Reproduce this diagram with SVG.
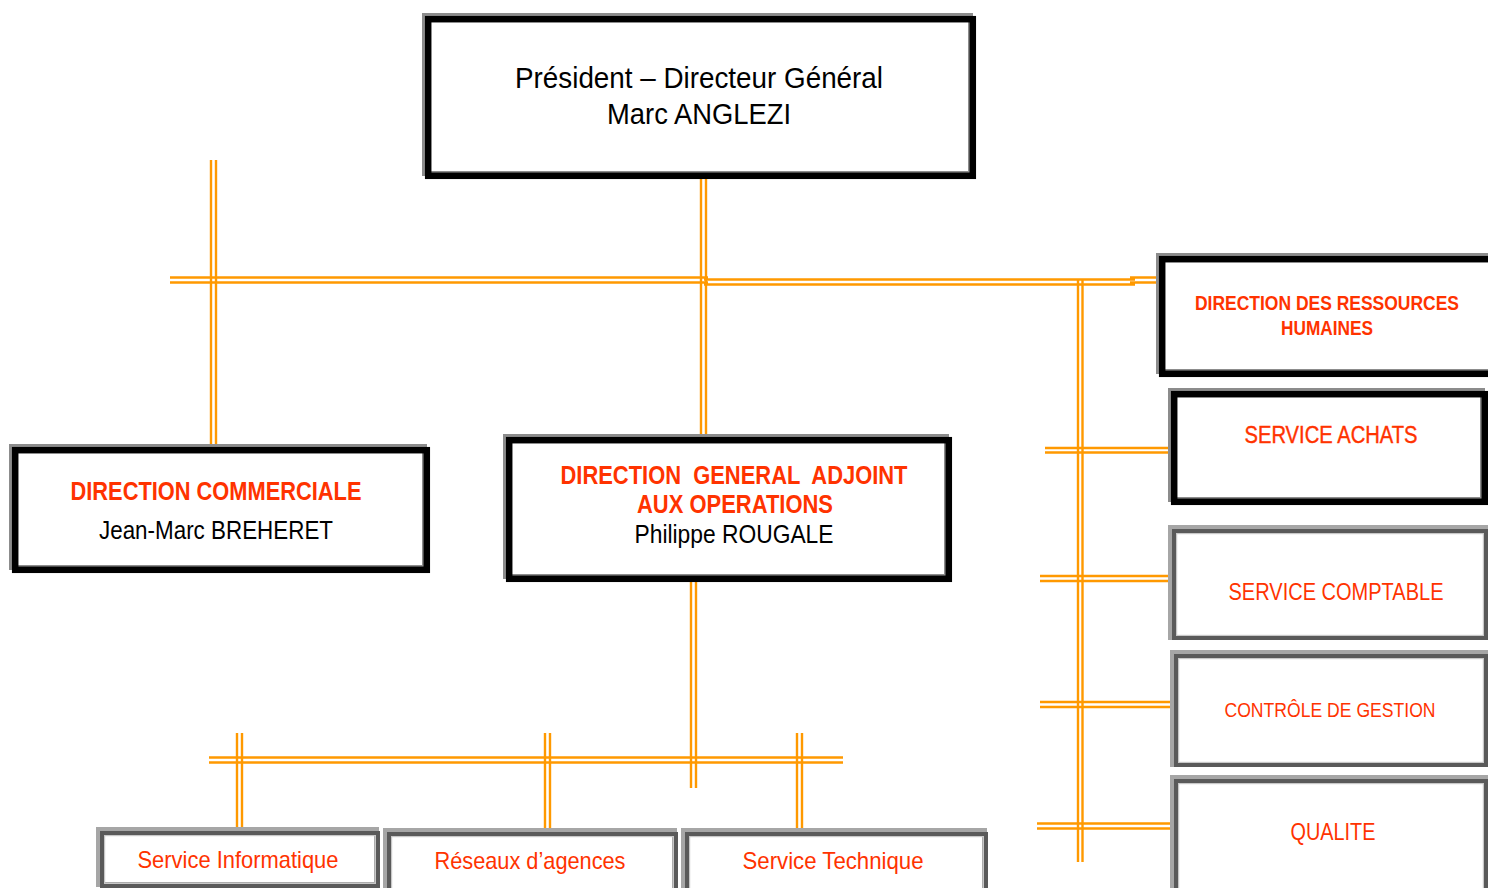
<svg xmlns="http://www.w3.org/2000/svg" width="1488" height="888" viewBox="0 0 1488 888">
<style>
.gr{fill:none;stroke:#8c8c8c;stroke-width:5}
.bk{fill:none;stroke:#000;stroke-width:6.5}
.lg{fill:none;stroke:#a6a6a6;stroke-width:5}
.dg{fill:none;stroke:#5a5a5a;stroke-width:4}
.il{fill:none;stroke:#c8c8c8;stroke-width:1.2}
.wh{fill:#fff;stroke:none}
text{font-family:"Liberation Sans Narrow","Liberation Sans",Arial,sans-serif;text-anchor:middle;white-space:pre}
.k{fill:#000}
.r{fill:#ff3300}
.b{font-weight:bold}
.con{fill:none;stroke:#ff9900;stroke-width:2.4}
</style>
<rect width="1488" height="888" fill="#fff"/>

<g id="connectors">
<path class="con" d="M701,176V437M706,176V437
M170,277.5H708M170,282.5H708
M704,279.5H1135M704,284.5H1135
M1130,277.5H1160M1130,282.5H1160
M211,160V447M216,160V447
M1078,280V862M1082.5,280V862
M1045,448H1170M1045,452.5H1170
M1040,576H1170M1040,581H1170
M1040,702H1174M1040,707H1174
M1037,823.5H1174M1037,828.5H1174
M691,565V788M696,565V788
M209,757.5H843M209,762.5H843
M237,733V836M242,733V836
M545,733V836M550,733V836
M797,733V836M802,733V836"/>
</g>

<g id="pdg">
<rect class="wh" x="428" y="19" width="545" height="157"/>
<rect class="gr" x="424.5" y="15.5" width="546" height="158"/>
<rect class="bk" x="428.2" y="19.2" width="544.6" height="156.6"/>
<text class="k" x="699" y="88" font-size="29" textLength="368" lengthAdjust="spacingAndGlyphs">Président – Directeur Général</text>
<text class="k" x="699" y="124" font-size="29" textLength="184" lengthAdjust="spacingAndGlyphs">Marc ANGLEZI</text>
</g>

<g id="dircom">
<rect class="wh" x="15" y="450" width="412" height="120"/>
<rect class="gr" x="11.5" y="446.5" width="413" height="121"/>
<rect class="bk" x="15.2" y="450.2" width="411.6" height="119.6"/>
<text class="r b" x="216" y="500" font-size="25" textLength="291" lengthAdjust="spacingAndGlyphs">DIRECTION COMMERCIALE</text>
<text class="k" x="216" y="539" font-size="25" textLength="234" lengthAdjust="spacingAndGlyphs">Jean-Marc BREHERET</text>
</g>

<g id="dga">
<rect class="wh" x="509" y="440" width="440" height="139"/>
<rect class="gr" x="505.5" y="436.5" width="441" height="140"/>
<rect class="bk" x="509.2" y="440.2" width="439.6" height="138.6"/>
<text class="r b" x="734" y="484" font-size="25" textLength="347" lengthAdjust="spacingAndGlyphs" xml:space="preserve">DIRECTION  GENERAL  ADJOINT</text>
<text class="r b" x="735" y="513" font-size="25" textLength="196" lengthAdjust="spacingAndGlyphs">AUX OPERATIONS</text>
<text class="k" x="734" y="543" font-size="25" textLength="199" lengthAdjust="spacingAndGlyphs">Philippe ROUGALE</text>
</g>

<g id="drh">
<rect class="wh" x="1162" y="259" width="326" height="115"/>
<rect class="gr" x="1158.5" y="255.5" width="334" height="116"/>
<rect class="bk" x="1162.2" y="259.2" width="334" height="114.6"/>
<text class="r b" x="1327" y="310" font-size="21" textLength="264" lengthAdjust="spacingAndGlyphs">DIRECTION DES RESSOURCES</text>
<text class="r b" x="1327" y="335" font-size="21" textLength="92" lengthAdjust="spacingAndGlyphs">HUMAINES</text>
</g>

<g id="achats">
<rect class="wh" x="1174" y="394" width="311" height="108"/>
<rect class="gr" x="1170.5" y="390.5" width="312" height="109"/>
<rect class="bk" x="1174.2" y="394.2" width="310.6" height="107.6"/>
<text class="r" x="1331" y="443" font-size="23" textLength="173" lengthAdjust="spacingAndGlyphs" stroke="#ff3300" stroke-width="0.4">SERVICE ACHATS</text>
</g>

<g id="comptable">
<rect class="wh" x="1172" y="529" width="314" height="109"/>
<rect class="lg" x="1170.5" y="527.5" width="315" height="110"/>
<rect class="dg" x="1174" y="531" width="312" height="107"/>
<rect class="il" x="1176.6" y="533.6" width="306.8" height="101.8"/>
<text class="r" x="1336" y="600" font-size="23" textLength="215" lengthAdjust="spacingAndGlyphs">SERVICE COMPTABLE</text>
</g>

<g id="controle">
<rect class="wh" x="1174" y="654" width="312" height="111"/>
<rect class="lg" x="1172.5" y="652.5" width="313" height="112"/>
<rect class="dg" x="1176" y="656" width="310" height="109"/>
<rect class="il" x="1178.6" y="658.6" width="304.8" height="103.8"/>
<text class="r" x="1330" y="717" font-size="20" textLength="211" lengthAdjust="spacingAndGlyphs">CONTRÔLE DE GESTION</text>
</g>

<g id="qualite">
<rect class="wh" x="1174" y="779" width="312" height="120"/>
<rect class="lg" x="1172.5" y="777.5" width="313" height="120"/>
<rect class="dg" x="1176" y="781" width="310" height="120"/>
<rect class="il" x="1178.6" y="783.6" width="304.8" height="120"/>
<text class="r" x="1333" y="840" font-size="23" textLength="85" lengthAdjust="spacingAndGlyphs">QUALITE</text>
</g>

<g id="informatique">
<rect class="wh" x="100" y="831" width="277" height="54"/>
<rect class="lg" x="98.5" y="829.5" width="278" height="55"/>
<rect class="dg" x="102" y="833" width="276" height="53"/>
<rect class="il" x="104.6" y="835.6" width="270.8" height="47.8"/>
<text class="r" x="238" y="868" font-size="24" textLength="201" lengthAdjust="spacingAndGlyphs">Service Informatique</text>
</g>

<g id="reseaux">
<rect class="wh" x="387" y="832" width="288" height="60"/>
<rect class="lg" x="385.5" y="830.5" width="289" height="62"/>
<rect class="dg" x="389" y="834" width="287" height="60"/>
<rect class="il" x="391.6" y="836.6" width="281.8" height="60"/>
<text class="r" x="530" y="869" font-size="24" textLength="191" lengthAdjust="spacingAndGlyphs">Réseaux d’agences</text>
</g>

<g id="technique">
<rect class="wh" x="685" y="832" width="300" height="60"/>
<rect class="lg" x="683.5" y="830.5" width="301" height="62"/>
<rect class="dg" x="687" y="834" width="299" height="60"/>
<rect class="il" x="689.6" y="836.6" width="293.8" height="60"/>
<text class="r" x="833" y="869" font-size="24" textLength="181" lengthAdjust="spacingAndGlyphs">Service Technique</text>
</g>
</svg>
